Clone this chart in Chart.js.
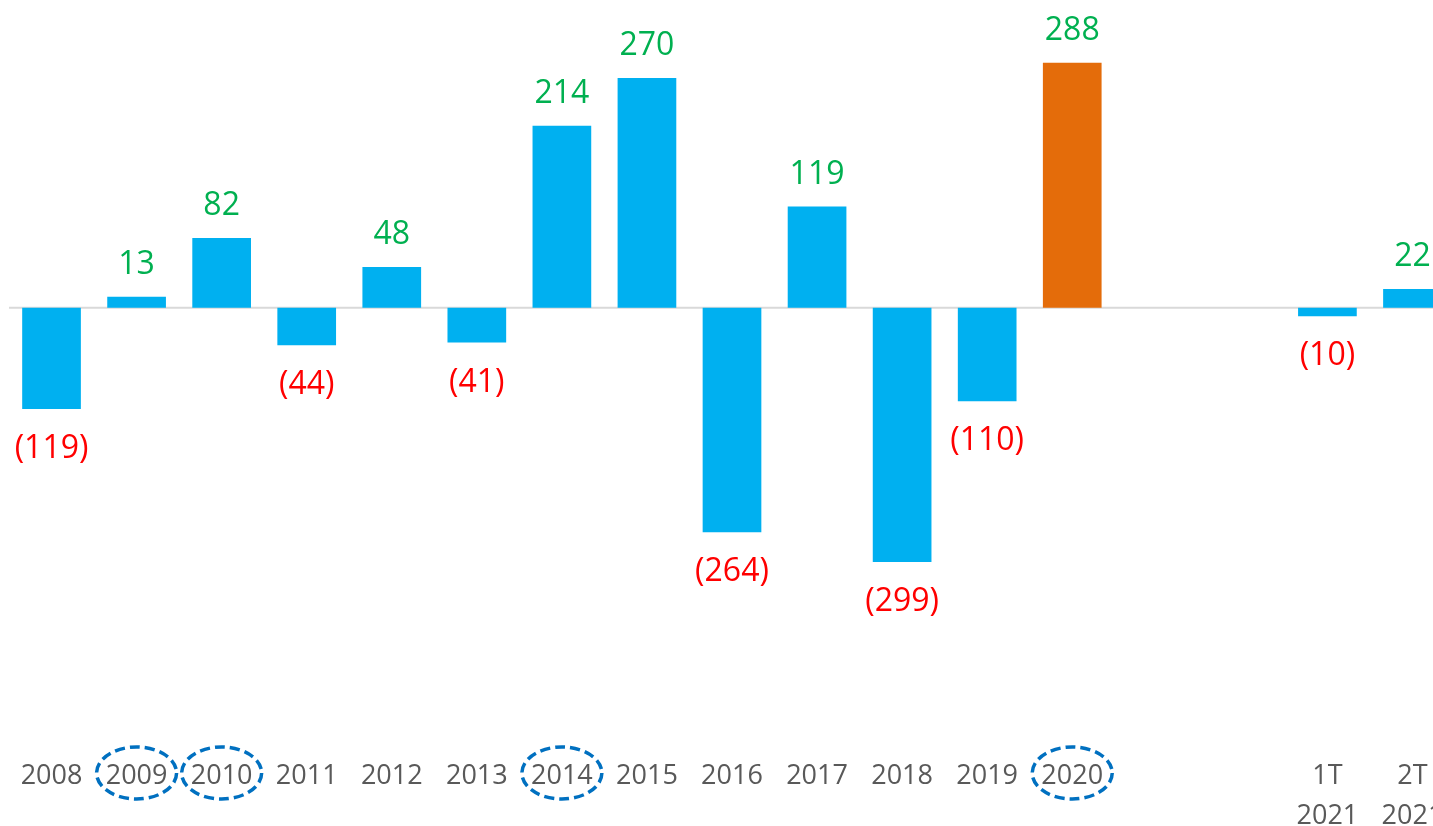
<!DOCTYPE html>
<html>
<head>
<meta charset="utf-8">
<script src="https://cdn.jsdelivr.net/npm/chart.js@4/dist/chart.umd.min.js"></script>
<style>
  html, body { margin: 0; padding: 0; overflow: hidden; background: #fff; width: 1433px; height: 826px; }
  #wrap { position: absolute; left: 0; top: 0; width: 1455px; height: 840px; }
</style>
</head>
<body>
<div id="wrap"><canvas id="c"></canvas></div>
<script>
const categories = ['2008','2009','2010','2011','2012','2013','2014','2015','2016','2017','2018','2019','2020','','',['1T','2021'],['2T','2021']];
const values = [-119, 13, 82, -44, 48, -41, 214, 270, -264, 119, -299, -110, 288, null, null, -10, 22];
const highlightedIndex = 12; // 2020 bar in orange
const circledLabels = ['2009','2010','2014','2020'];

const BLUE = '#00B0F0';
const ORANGE = '#E46C0A';
const GREEN = '#00B050';
const RED = '#FF0000';
const FONT = "'Open Sans', 'Noto Sans', sans-serif";

const barColors = values.map((v, i) => i === highlightedIndex ? ORANGE : BLUE);

const zeroLinePlugin = {
  id: 'zeroLine',
  beforeDatasetsDraw(chart) {
    const { ctx, chartArea } = chart;
    const y = chart.scales.y.getPixelForValue(0);
    ctx.save();
    ctx.strokeStyle = '#D9D9D9';
    ctx.lineWidth = 2;
    ctx.beginPath();
    ctx.moveTo(chartArea.left, y);
    ctx.lineTo(chartArea.right, y);
    ctx.stroke();
    ctx.restore();
  }
};

const labelPlugin = {
  id: 'valueLabels',
  afterDatasetsDraw(chart) {
    const { ctx } = chart;
    const meta = chart.getDatasetMeta(0);
    ctx.save();
    ctx.font = '32px ' + FONT;
    ctx.textAlign = 'center';
    ctx.textBaseline = 'middle';
    meta.data.forEach((bar, i) => {
      const v = values[i];
      if (v === null || v === undefined) return;
      if (v >= 0) {
        ctx.fillStyle = GREEN;
        ctx.fillText(String(v), bar.x, bar.y - 32);
      } else {
        ctx.fillStyle = RED;
        ctx.fillText('(' + Math.abs(v) + ')', bar.x, bar.y + 40);
      }
    });
    ctx.restore();
  }
};

const ellipsePlugin = {
  id: 'ellipses',
  afterDraw(chart) {
    const { ctx } = chart;
    const xs = chart.scales.x;
    ctx.save();
    ctx.strokeStyle = '#0070C0';
    ctx.lineWidth = 3.5;
    ctx.setLineDash([10, 5]);
    categories.forEach((c, i) => {
      if (typeof c === 'string' && circledLabels.includes(c)) {
        const x = xs.getPixelForValue(i);
        ctx.beginPath();
        ctx.ellipse(x, 773, 40, 26, 0, 0, Math.PI * 2);
        ctx.stroke();
      }
    });
    ctx.restore();
  }
};

new Chart(document.getElementById('c'), {
  type: 'bar',
  data: {
    labels: categories,
    datasets: [{
      data: values,
      backgroundColor: barColors,
      borderWidth: 0,
      categoryPercentage: 1,
      barPercentage: 0.69
    }]
  },
  options: {
    responsive: true,
    maintainAspectRatio: false,
    animation: false,
    layout: { padding: { left: 9, right: 0, top: 10, bottom: 3 } },
    plugins: { legend: { display: false }, tooltip: { enabled: false } },
    scales: {
      x: {
        grid: { display: false, drawTicks: false },
        border: { display: false },
        ticks: {
          color: '#595959',
          font: { family: FONT, size: 27, lineHeight: 1.5 },
          padding: 23,
          maxRotation: 0,
          autoSkip: false
        },
        afterFit(scale) {
          scale.height = 104;
          scale.paddingLeft = 0;
          scale.paddingRight = 0;
        }
      },
      y: {
        display: false,
        min: -500,
        max: 350
      }
    }
  },
  plugins: [zeroLinePlugin, labelPlugin, ellipsePlugin]
});
</script>
</body>
</html>
